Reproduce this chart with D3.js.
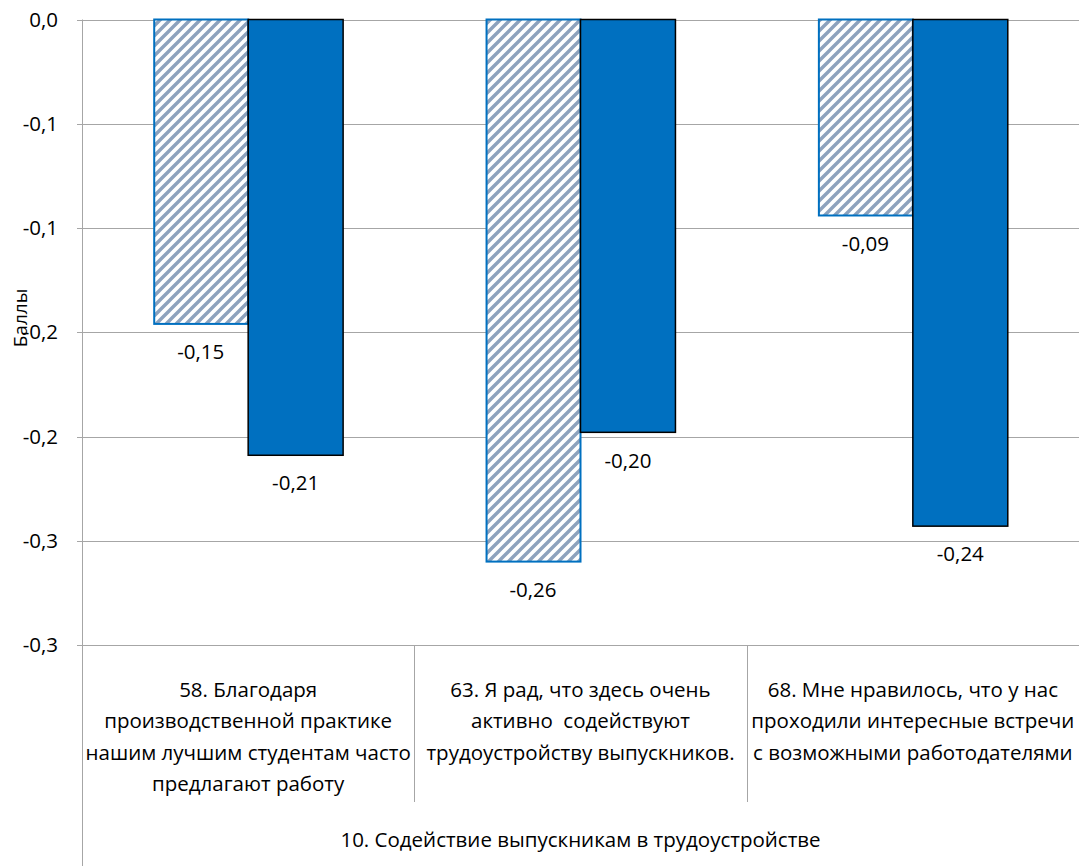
<!DOCTYPE html>
<html><head><meta charset="utf-8">
<script src="https://cdn.jsdelivr.net/npm/d3@7"></script>
<style>body{margin:0;background:#fff}svg{display:block}text{font-family:"Open Sans",sans-serif;fill:#000;white-space:pre}</style>
</head><body><svg id="c" width="1079" height="866"></svg>
<script>
const categories = [
  ["58. Благодаря","производственной практике","нашим лучшим студентам часто","предлагают работу"],
  ["63. Я рад, что здесь очень","активно  содействуют","трудоустройству выпускников."],
  ["68. Мне нравилось, что у нас","проходили интересные встречи","с возможными работодателями"]
];
const groupTitle = "10. Содействие выпускникам в трудоустройстве";
const seriesHatched = [-0.146, -0.260, -0.094];
const seriesSolid = [-0.209, -0.198, -0.243];
const yTicks = [0, -0.05, -0.1, -0.15, -0.2, -0.25, -0.3];
const yTickLabels = ["0,0","-0,1","-0,1","-0,2","-0,2","-0,3","-0,3"];
const yTitle = "Баллы";

const svg = d3.select("#c");
const L = 82, R = 1079, T = 19.5, B = 645;
const FS = 20.5;
const y = d3.scaleLinear().domain([0, -0.3]).range([T, B]);
const x0 = d3.scaleBand().domain(d3.range(categories.length)).range([L, R]).paddingInner(0).paddingOuter(0);
const x1 = d3.scaleBand().domain(["h","s"]).range([0, x0.bandwidth()]).paddingOuter(0.75).paddingInner(0);
const fmt = d3.formatLocale({decimal:",", thousands:" ", grouping:[3], currency:["",""], minus:"-"}).format(".2f");

const defs = svg.append("defs");
const P = 10;
const pat = defs.append("pattern").attr("id","hatch").attr("patternUnits","userSpaceOnUse")
  .attr("width",P).attr("height",P);
pat.append("rect").attr("width",P).attr("height",P).attr("fill","#fff");
pat.append("path").attr("d",`M-3,3 L3,-3 M0,${P} L${P},0 M${P-3},${P+3} L${P+3},${P-3}`)
  .attr("stroke","#8da2bd").attr("stroke-width",3.4);

// gridlines
const g = svg.append("g");
g.selectAll("line.grid").data(yTicks).join("line")
  .attr("x1", L-5).attr("x2", R).attr("y1", d=>Math.round(y(d))+0.5).attr("y2", d=>Math.round(y(d))+0.5)
  .attr("stroke","#a6a6a6").attr("stroke-width",1);
g.selectAll("text.tick").data(yTicks).join("text")
  .attr("x", 58).attr("y", d=>y(d)).attr("dy","0.35em").attr("text-anchor","end")
  .attr("font-size",FS).text((d,i)=>yTickLabels[i]);
// left axis
svg.append("line").attr("x1",L+0.5).attr("x2",L+0.5).attr("y1",T).attr("y2",866).attr("stroke","#a6a6a6");
// category separators
categories.forEach((c,i)=>{ if(i>0){
  const xx = Math.round(x0(i))+0.5;
  svg.append("line").attr("x1",xx).attr("x2",xx).attr("y1",B).attr("y2",802).attr("stroke","#a6a6a6");
}});

// bars
const bars = svg.append("g");
seriesHatched.forEach((v,i)=>{
  bars.append("rect").attr("x", x0(i)+x1("h")+1).attr("y", y(0)).attr("width", x1.bandwidth()-1)
    .attr("height", y(v)-y(0)).attr("fill","url(#hatch)").attr("stroke","#0070c0").attr("stroke-width",2);
});
seriesSolid.forEach((v,i)=>{
  bars.append("rect").attr("x", x0(i)+x1("s")).attr("y", y(0)).attr("width", x1.bandwidth())
    .attr("height", y(v)-y(0)).attr("fill","#0070c0").attr("stroke","#000").attr("stroke-width",1.5);
});
// value labels
[["h",seriesHatched],["s",seriesSolid]].forEach(([k,arr])=>{
  arr.forEach((v,i)=>{
    svg.append("text").attr("x", x0(i)+x1(k)+x1.bandwidth()/2).attr("y", y(v)+28)
      .attr("dy","0.35em").attr("text-anchor","middle").attr("font-size",FS).text(fmt(v));
  });
});
// category labels
categories.forEach((lines,i)=>{
  const cx = x0(i)+x0.bandwidth()/2;
  lines.forEach((ln,j)=>{
    svg.append("text").attr("x",cx).attr("y",690+j*31.3)
      .attr("dy","0.35em").attr("text-anchor","middle").attr("font-size",FS).text(ln);
  });
});
svg.append("text").attr("x",(L+R)/2).attr("y",840).attr("dy","0.35em").attr("text-anchor","middle")
  .attr("font-size",FS).text(groupTitle);
svg.append("text").attr("transform",`translate(20,318) rotate(-90)`).attr("text-anchor","middle")
  .attr("dy","0.35em").attr("font-size",19).text(yTitle);
</script></body></html>
